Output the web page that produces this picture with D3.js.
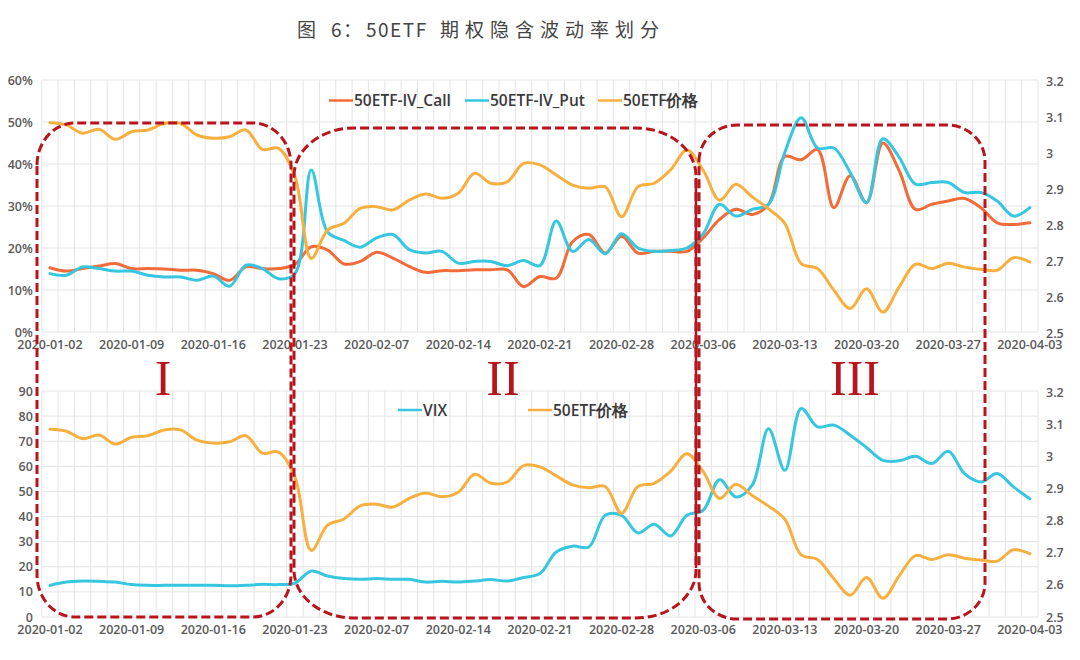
<!DOCTYPE html>
<html><head><meta charset="utf-8">
<script src="https://cdn.jsdelivr.net/npm/d3@7/dist/d3.min.js"></script>
<style>
html,body{margin:0;padding:0;background:#fff;}
svg{display:block;}
</style></head>
<body>
<svg id="chart" width="1080" height="660"></svg>
<script>
const dates = ["2020-01-02","2020-01-03","2020-01-06","2020-01-07","2020-01-08","2020-01-09","2020-01-10","2020-01-13","2020-01-14","2020-01-15","2020-01-16","2020-01-17","2020-01-20","2020-01-21","2020-01-22","2020-01-23",
"2020-02-03","2020-02-04","2020-02-05","2020-02-06","2020-02-07","2020-02-10","2020-02-11","2020-02-12","2020-02-13","2020-02-14","2020-02-17","2020-02-18","2020-02-19","2020-02-20","2020-02-21","2020-02-24","2020-02-25","2020-02-26","2020-02-27","2020-02-28",
"2020-03-02","2020-03-03","2020-03-04","2020-03-05","2020-03-06","2020-03-09","2020-03-10","2020-03-11","2020-03-12","2020-03-13","2020-03-16","2020-03-17","2020-03-18","2020-03-19","2020-03-20","2020-03-23","2020-03-24","2020-03-25","2020-03-26","2020-03-27","2020-03-30","2020-03-31",
"2020-04-01","2020-04-02","2020-04-03"];

const ivCall = [15.3,14.5,15.1,15.7,16.3,15.1,15.1,15.0,14.7,14.7,13.9,12.3,15.5,15.1,15.1,16.1,
20.3,19.5,16.2,16.8,19.0,17.6,15.6,14.2,14.6,14.6,14.8,14.8,14.8,10.8,13.2,12.8,21.5,23.2,18.8,22.8,
18.8,19.2,19.2,19.2,22.4,26.8,29.2,28.0,30.4,41.8,41.0,43.4,29.6,37.2,30.8,45.0,38.4,29.2,30.4,31.2,31.8,29.6,
26.0,25.6,26.0];

const ivPut = [13.9,13.5,15.5,15.1,14.5,14.5,13.5,13.1,13.1,12.3,13.3,10.9,15.9,15.1,12.7,13.9,
38.6,23.8,21.8,20.2,22.4,23.2,19.6,18.8,19.2,16.4,16.8,16.8,15.8,17.0,15.8,26.4,19.2,22.0,18.6,23.4,
20.0,19.2,19.4,20.0,23.4,30.4,27.6,29.2,30.4,42.8,51.0,43.8,43.8,38.0,30.8,46.0,41.6,35.2,35.6,35.6,33.2,33.2,
31.2,27.6,29.6];

const etfPrice = [3.084,3.078,3.055,3.066,3.038,3.059,3.064,3.082,3.082,3.050,3.041,3.045,3.064,3.010,3.013,2.935,
2.707,2.786,2.805,2.846,2.851,2.842,2.869,2.886,2.874,2.888,2.944,2.916,2.920,2.971,2.967,2.939,2.911,2.902,2.906,2.823,
2.906,2.916,2.953,3.008,2.952,2.869,2.913,2.878,2.845,2.804,2.693,2.679,2.619,2.568,2.623,2.558,2.628,2.691,2.679,2.694,2.683,2.677,
2.674,2.709,2.697];

const vix = [12.6,13.9,14.3,14.2,13.9,12.9,12.6,12.6,12.6,12.6,12.6,12.4,12.6,13.0,12.9,13.5,
18.3,16.3,15.3,15.0,15.3,15.0,15.0,13.9,14.2,13.9,14.3,14.9,14.3,15.7,17.3,25.9,28.2,27.9,40.5,40.5,
33.5,36.9,32.3,40.5,42.5,54.7,47.8,52.5,75.0,58.4,83.0,75.7,76.4,72.4,67.5,62.4,62.2,64.0,61.1,66.0,57.1,53.8,
57.1,51.8,47.1];

const pctTicks = [0,10,20,30,40,50,60];
const vixTicks = [0,10,20,30,40,50,60,70,80,90];
const priceTicks = [2.5,2.6,2.7,2.8,2.9,3.0,3.1,3.2];
const xTickIdx = [0,5,10,15,20,25,30,35,40,45,50,55,60];
const legendTop = ["50ETF-IV_Call","50ETF-IV_Put","50ETF价格"];
const legendBottom = ["VIX","50ETF价格"];
const periods = ["I","II","III"];
const titleParts = ["图","6","：","50ETF","期权隐含波动率划分"];

const C_CALL = "#F26B38", C_PUT = "#36C6DF", C_PRICE = "#F7B03F", C_BOX = "#B8141C";
const FONT = "'Open Sans','Noto Sans','DejaVu Sans',sans-serif";

const svg = d3.select("#chart");

// title
const tg = svg.append("g").attr("font-family","'Noto Sans CJK SC',sans-serif").attr("font-size",19).attr("fill","#444");
[[297,0,0],[331,1,0],[343,2,0],[366,3,1.5],[440,4,6]].forEach(([tx,k,ls])=>{
  tg.append("text").attr("x",tx).attr("y",37).attr("letter-spacing",ls).text(titleParts[k]);
});

const x = d3.scaleBand().domain(d3.range(dates.length)).range([41.8,1038]).paddingInner(0).paddingOuter(0);
const bw = x.bandwidth();
const cx = i => x(i) + bw/2;

function panel(cfg){
  const g = svg.append("g");
  const yL = d3.scaleLinear().domain(cfg.lDomain).range([cfg.y1,cfg.y0]);
  const yR = d3.scaleLinear().domain([2.5,3.2]).range([cfg.y1r,cfg.y0r]);
  const grid = g.append("g").attr("stroke","#e4e4e4").attr("stroke-width",1);
  d3.range(dates.length+1).forEach(i=>{
    const xx = i<dates.length ? x(i) : x.range()[1];
    grid.append("line").attr("x1",xx).attr("x2",xx).attr("y1",cfg.y0).attr("y2",cfg.y1);
  });
  cfg.lTicks.forEach(t=>{
    grid.append("line").attr("x1",x.range()[0]).attr("x2",x.range()[1]).attr("y1",yL(t)).attr("y2",yL(t));
  });
  const axL = g.append("g").attr("transform",`translate(${x.range()[0]},0)`)
    .call(d3.axisLeft(yL).tickValues(cfg.lTicks).tickSize(0).tickPadding(9).tickFormat(cfg.lFmt));
  const axR = g.append("g").attr("transform",`translate(${x.range()[1]},0)`)
    .call(d3.axisRight(yR).tickValues(priceTicks).tickSize(0).tickPadding(8).tickFormat(d=>String(+d.toFixed(1))));
  const axB = g.append("g").attr("transform",`translate(0,${cfg.y1})`)
    .call(d3.axisBottom(x).tickValues(xTickIdx).tickSize(0).tickPadding(cfg.xPad).tickFormat(i=>dates[i]));
  [axL,axR,axB].forEach(a=>{
    a.select(".domain").remove();
    a.selectAll("text").attr("font-family",FONT).attr("font-size",12.5).attr("font-weight",600).attr("fill","#595959");
  });
  cfg.series.forEach(s=>{
    const ys = s.axis==="R" ? yR : yL;
    const line = d3.line().x((d,i)=>cx(i)).y(d=>ys(d)).curve(d3.curveCatmullRom.alpha(0.5));
    g.append("path").datum(s.values).attr("d",line).attr("fill","none")
      .attr("stroke",s.color).attr("stroke-width",3).attr("stroke-linejoin","round").attr("stroke-linecap","round");
  });
  const lg = g.append("g");
  cfg.legend.forEach(l=>{
    lg.append("line").attr("x1",l.x).attr("x2",l.x+24).attr("y1",cfg.legY).attr("y2",cfg.legY)
      .attr("stroke",l.color).attr("stroke-width",2.5);
    lg.append("text").attr("x",l.x+25).attr("y",cfg.legY+5.5).attr("font-family",FONT)
      .attr("font-size",15.5).attr("font-weight",600).attr("fill","#3a3a3a").text(l.name);
  });
}

panel({
  y0:80, y1:332, y0r:81, y1r:333, lDomain:[0,60], lTicks:pctTicks, lFmt:d=>d+"%", xPad:8,
  series:[{values:ivCall,color:C_CALL,axis:"L"},{values:ivPut,color:C_PUT,axis:"L"},{values:etfPrice,color:C_PRICE,axis:"R"}],
  legY:100.5,
  legend:[{name:legendTop[0],color:C_CALL,x:329},{name:legendTop[1],color:C_PUT,x:465},{name:legendTop[2],color:C_PRICE,x:598}]
});
panel({
  y0:391, y1:617, y0r:392, y1r:617, lDomain:[0,90], lTicks:vixTicks, lFmt:d=>String(d), xPad:8,
  series:[{values:vix,color:C_PUT,axis:"L"},{values:etfPrice,color:C_PRICE,axis:"R"}],
  legY:410,
  legend:[{name:legendBottom[0],color:C_PUT,x:398},{name:legendBottom[1],color:C_PRICE,x:528}]
});

function rr(x0,y0,x1,y1,rx,ry){
  return `M${x0},${y0+ry} A${rx},${ry} 0 0 1 ${x0+rx},${y0} L${x1-rx},${y0} A${rx},${ry} 0 0 1 ${x1},${y0+ry}`+
         ` L${x1},${y1-ry} A${rx},${ry} 0 0 1 ${x1-rx},${y1} L${x0+rx},${y1} A${rx},${ry} 0 0 1 ${x0},${y1-ry} Z`;
}
const boxes = svg.append("g").attr("fill","none").attr("stroke",C_BOX).attr("stroke-width",3).attr("stroke-dasharray","9,4");
boxes.append("path").attr("d",rr(37,123,291,617,38,42));
boxes.append("path").attr("d",rr(294,128,696,618,60,48));
boxes.append("path").attr("d",rr(699,125,985,619,38,36));
svg.append("line").attr("x1",696).attr("x2",696).attr("y1",178).attr("y2",568)
  .attr("stroke",C_BOX).attr("stroke-width",2.5);

const rom = svg.append("g").attr("font-family","'Liberation Serif','DejaVu Serif',serif")
  .attr("font-size",50).attr("fill",C_BOX).attr("text-anchor","middle");
[[163,periods[0]],[503,periods[1]],[855,periods[2]]].forEach(([px,t])=>{
  rom.append("text").attr("x",px).attr("y",395).text(t);
});
</script>
</body></html>
